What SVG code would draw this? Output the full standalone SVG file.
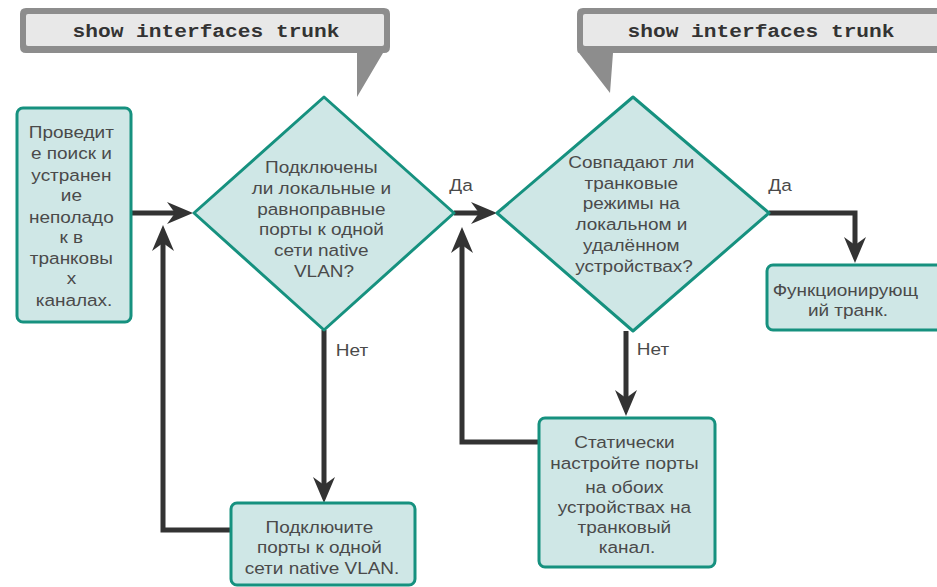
<svg xmlns="http://www.w3.org/2000/svg" width="937" height="587" viewBox="0 0 937 587">
  <style>
    .box { fill: #cfe7e6; stroke: #16917f; stroke-width: 3; stroke-linejoin: round; }
    .lbl { font-family: "Liberation Sans", Arial, sans-serif; font-size: 16.5px; fill: #4a4a4a; text-anchor: middle; }
    .cmd { font-family: "Liberation Mono", "Courier New", monospace; font-size: 19px; font-weight: bold; fill: #333; text-anchor: middle; }
    .callout { fill: #8d8d8d; }
    .callin { fill: #e8e8e8; }
    .wire { fill: none; stroke: #333; stroke-width: 5; stroke-linejoin: miter; }
    .arr { marker-end: url(#head); }
  </style>
  <defs>
    <marker id="head" markerUnits="userSpaceOnUse" markerWidth="26" markerHeight="22" viewBox="0 0 26 22" refX="16" refY="11" orient="auto">
      <path d="M0,0 L26,11 L0,22 L8,11 Z" fill="#333"/>
    </marker>
  </defs>

  <!-- command callouts -->
  <g id="callout-left">
    <path class="callout" d="M26,8 H384 Q390,8 390,14 V47 Q390,53 384,53 H383 L357,97 V53 H26 Q20,53 20,47 V14 Q20,8 26,8 Z"/>
    <rect class="callin" x="26" y="14" width="358" height="32" rx="2"/>
    <text class="cmd" x="206" y="37" textLength="267" lengthAdjust="spacingAndGlyphs">show interfaces trunk</text>
  </g>
  <g id="callout-right">
    <path class="callout" d="M583,8 H945 V53 H613 L610,93 L579,53 Q577,53 577,47 V14 Q577,8 583,8 Z"/>
    <rect class="callin" x="583" y="14" width="362" height="32" rx="2"/>
    <text class="cmd" x="761" y="37" textLength="267" lengthAdjust="spacingAndGlyphs">show interfaces trunk</text>
  </g>

  <!-- connectors -->
  <g id="connectors">
    <path class="wire arr" d="M131,213 H183"/>
    <path class="wire arr" d="M454,213 H487"/>
    <path class="wire arr" d="M324,330 V493"/>
    <path class="wire arr" d="M232,530 H163 V235"/>
    <path class="wire arr" d="M769,213 H855 V253"/>
    <path class="wire arr" d="M626,331 V406"/>
    <path class="wire arr" d="M539,442 H462 V237"/>
    <text class="lbl" transform="translate(461 0) scale(1.15 1)" x="0" y="191">Да</text>
    <text class="lbl" transform="translate(780 0) scale(1.15 1)" x="0" y="191">Да</text>
    <text class="lbl" transform="translate(352 0) scale(1.15 1)" x="0" y="356">Нет</text>
    <text class="lbl" transform="translate(653 0) scale(1.15 1)" x="0" y="355">Нет</text>
  </g>

  <!-- troubleshooting start -->
  <g id="start">
    <rect class="box" x="17" y="108" width="114" height="214" rx="6"/>
    <text class="lbl" transform="translate(74 0) scale(1.15 1)">
      <tspan x="0" y="138">Проведит</tspan>
      <tspan x="0" y="159">е поиск и</tspan>
      <tspan x="0" y="181">устранен</tspan>
      <tspan x="0" y="201">ие</tspan>
      <tspan x="0" y="223">неполадо</tspan>
      <tspan x="0" y="243">к в</tspan>
      <tspan x="0" y="264">транковы</tspan>
      <tspan x="0" y="284">х</tspan>
      <tspan x="0" y="306">каналах.</tspan>
    </text>
  </g>

  <!-- decision: native VLAN -->
  <g id="native-vlan-check">
    <path class="box" d="M324,97 L454,213 L324,330 L194,213 Z"/>
    <text class="lbl" transform="translate(324 0) scale(1.15 1)">
      <tspan x="0" y="173">Подключены</tspan>
      <tspan x="0" y="194">ли локальные и</tspan>
      <tspan x="0" y="215">равноправные</tspan>
      <tspan x="0" y="235">порты к одной</tspan>
      <tspan x="0" y="256">сети native</tspan>
      <tspan x="0" y="277">VLAN?</tspan>
    </text>
  </g>

  <!-- decision: trunk modes -->
  <g id="trunk-mode-check">
    <path class="box" d="M633,97 L769,213 L633,331 L497,213 Z"/>
    <text class="lbl" transform="translate(634 0) scale(1.15 1)">
      <tspan x="0" y="168">Совпадают ли</tspan>
      <tspan x="0" y="189">транковые</tspan>
      <tspan x="0" y="209">режимы на</tspan>
      <tspan x="0" y="230">локальном и</tspan>
      <tspan x="0" y="251">удалённом</tspan>
      <tspan x="0" y="272">устройствах?</tspan>
    </text>
  </g>

  <!-- fix: native VLAN -->
  <g id="fix-native-vlan">
    <rect class="box" x="231" y="503" width="184" height="82" rx="6"/>
    <text class="lbl" transform="translate(322 0) scale(1.15 1)">
      <tspan x="0" y="533">Подключите</tspan>
      <tspan x="0" y="553">порты к одной</tspan>
      <tspan x="0" y="574">сети native VLAN.</tspan>
    </text>
  </g>

  <!-- fix: static trunk -->
  <g id="fix-static-trunk">
    <rect class="box" x="539" y="418" width="176" height="149" rx="6"/>
    <text class="lbl" transform="translate(627 0) scale(1.15 1)">
      <tspan x="0" y="448">Статически</tspan>
      <tspan x="0" y="469">настройте порты</tspan>
      <tspan x="0" y="493">на обоих</tspan>
      <tspan x="0" y="513">устройствах на</tspan>
      <tspan x="0" y="533">транковый</tspan>
      <tspan x="0" y="553">канал.</tspan>
    </text>
  </g>

  <!-- result -->
  <g id="trunk-ok">
    <rect class="box" x="767" y="265" width="180" height="65" rx="6"/>
    <text class="lbl" transform="translate(848 0) scale(1.15 1)">
      <tspan x="0" y="296">Функционирующ</tspan>
      <tspan x="0" y="316">ий транк.</tspan>
    </text>
  </g>
</svg>
